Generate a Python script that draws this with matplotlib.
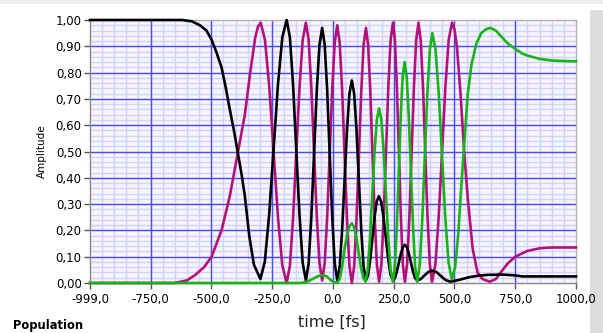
import numpy as np
import matplotlib.pyplot as plt
from matplotlib.ticker import FixedLocator, NullLocator, FuncFormatter
from matplotlib.patches import Rectangle

# populations vs time [fs]
t_black = [-999, -620, -580, -547, -520, -499, -480, -458, -440, -424, -405, -390, -375, -362,
           -344, -325, -298,
           -280, -262, -244, -226, -208, -190,
           -176.8, -163.7, -150.5, -137.3, -124.2, -111,
           -99.8, -88.7, -77.5, -66.3, -55.2, -44,
           -33.7, -23.3, -13, -2.7, 7.7, 18,
           28, 38, 48, 58, 68, 78,
           87.7, 97.3, 107, 116.7, 126.3, 136,
           144.8, 153.7, 162.5, 171.3, 180.2, 189,
           198.7, 208.3, 218, 227.7, 237.3, 247,
           255.2, 263.3, 271.5, 279.7, 287.8, 296,
           304.3, 312.7, 321, 329.3, 337.7, 346,
           361.5, 377, 392.5, 408, 427, 445, 464, 483,
           520, 560, 600, 640, 700, 750, 780, 1000]
p_black = [1.0, 1.0, 0.995, 0.98, 0.96, 0.925, 0.88, 0.82, 0.74, 0.66, 0.57, 0.49, 0.41, 0.33,
           0.18, 0.07, 0.015,
           0.081, 0.261, 0.508, 0.754, 0.934, 1.0,
           0.934, 0.753, 0.505, 0.258, 0.076, 0.01,
           0.074, 0.25, 0.49, 0.73, 0.906, 0.97,
           0.906, 0.73, 0.49, 0.25, 0.074, 0.01,
           0.061, 0.20, 0.39, 0.58, 0.719, 0.77,
           0.719, 0.58, 0.39, 0.20, 0.061, 0.01,
           0.031, 0.09, 0.17, 0.25, 0.309, 0.33,
           0.309, 0.25, 0.17, 0.09, 0.031, 0.01,
           0.019, 0.044, 0.078, 0.111, 0.136, 0.145,
           0.136, 0.111, 0.078, 0.044, 0.019, 0.01,
           0.015, 0.029, 0.042, 0.047, 0.041, 0.026, 0.011, 0.005,
           0.012, 0.022, 0.028, 0.031, 0.032, 0.029, 0.025, 0.025]

t_magenta = [-999, -650, -600, -567, -530, -499, -458, -424, -390, -362, -340, -320, -308, -297,
             -279.2, -261.3, -243.5, -225.7, -207.8, -190,
             -176.8, -163.7, -150.5, -137.3, -124.2, -111,
             -99.8, -88.7, -77.5, -66.3, -55.2, -44,
             -33.7, -23.3, -13, -2.7, 7.7, 18,
             28, 38, 48, 58, 68, 78,
             87.7, 97.3, 107, 116.7, 126.3, 136,
             145, 154, 163, 172, 181, 190,
             199.5, 209, 218.5, 228, 237.5, 247,
             255.2, 263.3, 271.5, 279.7, 287.8, 296,
             305.3, 314.7, 324, 333.3, 342.7, 352,
             361.3, 370.7, 380, 389.3, 398.7, 408,
             421.7, 435.3, 449, 462.7, 476.3, 490,
             500, 510, 525, 540, 555, 575, 595, 615, 645,
             670, 690, 720, 750, 800, 850, 900, 1000]
p_magenta = [0.0, 0.0, 0.01, 0.03, 0.06, 0.10, 0.20, 0.33, 0.50, 0.64, 0.80, 0.93, 0.975, 0.99,
             0.924, 0.743, 0.495, 0.248, 0.066, 0.0,
             0.066, 0.248, 0.495, 0.743, 0.924, 0.99,
             0.924, 0.745, 0.50, 0.255, 0.076, 0.01,
             0.075, 0.253, 0.495, 0.738, 0.915, 0.98,
             0.914, 0.735, 0.49, 0.245, 0.066, 0.0,
             0.065, 0.243, 0.485, 0.728, 0.905, 0.97,
             0.905, 0.729, 0.488, 0.246, 0.070, 0.005,
             0.071, 0.251, 0.498, 0.744, 0.924, 0.99,
             0.924, 0.744, 0.498, 0.251, 0.071, 0.005,
             0.071, 0.251, 0.498, 0.744, 0.924, 0.99,
             0.924, 0.744, 0.498, 0.251, 0.071, 0.005,
             0.071, 0.251, 0.498, 0.744, 0.924, 0.99,
             0.965, 0.90, 0.72, 0.50, 0.32, 0.13, 0.04, 0.015, 0.005,
             0.015, 0.04, 0.075, 0.10, 0.122, 0.132, 0.135, 0.135]

t_green = [-999, -130, -110, -90, -70, -55, -40, -25, -10, 5, 18,
           28, 38, 48, 58, 68, 78,
           87.3, 96.7, 106, 115.3, 124.7, 134,
           143.3, 152.7, 162, 171.3, 180.7, 190,
           199.5, 209, 218.5, 228, 237.5, 247,
           255, 263, 271, 279, 287, 295,
           303.7, 312.3, 321, 329.7, 338.3, 347,
           357.3, 367.7, 378, 388.3, 398.7, 409,
           422.3, 435.7, 449, 462.3, 475.7, 489,
           503, 516, 527, 538, 555, 570, 590, 610, 630, 647,
           670, 700, 720, 750, 780, 800, 850, 900, 950, 1000]
p_green = [0.0, 0.0, 0.004, 0.012, 0.022, 0.028, 0.03, 0.025, 0.012, 0.003, 0.0,
           0.015, 0.06, 0.13, 0.18, 0.215, 0.227,
           0.212, 0.172, 0.116, 0.06, 0.02, 0.005,
           0.049, 0.17, 0.335, 0.499, 0.62, 0.664,
           0.62, 0.499, 0.335, 0.17, 0.049, 0.005,
           0.061, 0.214, 0.423, 0.631, 0.784, 0.84,
           0.784, 0.631, 0.423, 0.214, 0.061, 0.005,
           0.068, 0.241, 0.478, 0.714, 0.887, 0.95,
           0.887, 0.716, 0.483, 0.249, 0.078, 0.015,
           0.06, 0.19, 0.35, 0.50, 0.72, 0.83, 0.91, 0.95, 0.965, 0.97,
           0.96, 0.93, 0.91, 0.89, 0.872, 0.865, 0.852, 0.846, 0.844, 0.843]

x_ticks = [-999, -750, -500, -250, 0, 250, 500, 750, 1000]
y_ticks = [0.0, 0.1, 0.2, 0.3, 0.4, 0.5, 0.6, 0.7, 0.8, 0.9, 1.0]

W, H = 603, 333
fig = plt.figure(figsize=(W / 100, H / 100), dpi=100)
fig.patch.set_facecolor('white')

# thin strip on top, grey panel on the right
fig.add_artist(Rectangle((0, 1 - 4 / H), 1, 4 / H, transform=fig.transFigure,
                         facecolor='#ededed', edgecolor='none', zorder=0))
fig.add_artist(Rectangle((590 / W, 0), 13 / W, 1 - 10 / H, transform=fig.transFigure,
                         facecolor='#dcdcdc', edgecolor='none', zorder=0))

ax = fig.add_axes([90 / W, 50 / H, 486 / W, 263 / H])
ax.set_facecolor('#f6f6fc')
ax.set_xlim(-999, 1000)
ax.set_ylim(0, 1)

ax.xaxis.set_major_locator(FixedLocator(x_ticks))
ax.yaxis.set_major_locator(FixedLocator(y_ticks))
ax.xaxis.set_minor_locator(NullLocator())
ax.yaxis.set_minor_locator(NullLocator())

# grid drawn by hand so the dark lines sit on top of the light ones
for x in np.arange(-950, 1000, 50):
    ax.axvline(x, color='#d2d2fb', linewidth=1.0, zorder=0.5)
for y in np.arange(0.02, 1.0, 0.02):
    ax.axhline(y, color='#d2d2fb', linewidth=1.0, zorder=0.5)
for x in x_ticks[1:-1]:
    ax.axvline(x, color='#4a4aff', linewidth=1.0, zorder=0.6)
for y in y_ticks[1:-1]:
    ax.axhline(y, color='#4a4aff', linewidth=1.0, zorder=0.6)

comma = lambda fmt: FuncFormatter(lambda v, p: (fmt % v).replace('.', ','))
ax.xaxis.set_major_formatter(comma('%.1f'))
ax.yaxis.set_major_formatter(comma('%.2f'))

ax.tick_params(which='major', direction='out', length=4, width=1, color='#555555',
               labelsize=8.5, pad=2)
ax.tick_params(axis='x', pad=3)

for s in ax.spines.values():
    s.set_color('#b0b0b0')
    s.set_linewidth(1)
ax.spines['left'].set_color('#888888')
ax.spines['bottom'].set_color('#888888')

ax.plot(t_magenta, p_magenta, color='#b3117a', linewidth=1.9, zorder=3, clip_on=False)
ax.plot(t_black, p_black, color='black', linewidth=1.9, zorder=4, clip_on=False)
ax.plot(t_green, p_green, color='#17b317', linewidth=1.9, zorder=5, clip_on=False)

ax.set_ylabel('Amplitude', fontsize=7.5, labelpad=6)
fig.text(332 / W, 1 - 322 / H, 'time [fs]', fontsize=11.5, ha='center', va='center',
         color='#222222')
fig.text(13 / W, 1 - 325 / H, 'Population', fontsize=8.3, fontweight='bold', ha='left',
         va='center')

fig.savefig('out.png', dpi=100)
